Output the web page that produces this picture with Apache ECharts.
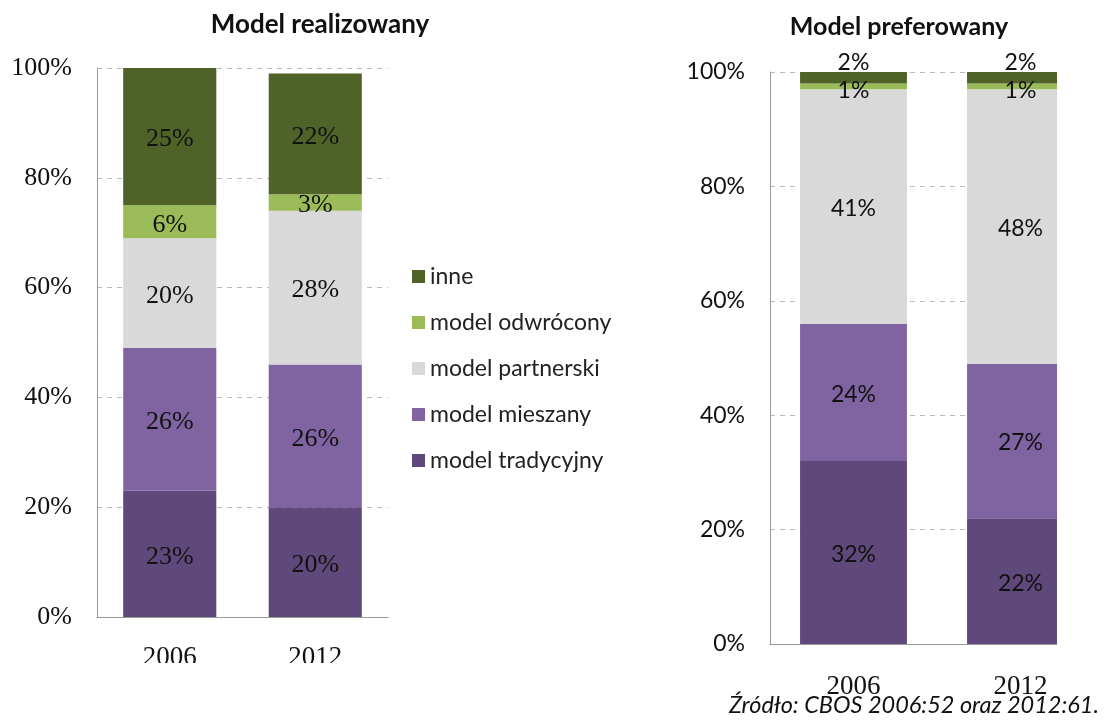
<!DOCTYPE html>
<html>
<head>
<meta charset="utf-8">
<script src="https://cdn.jsdelivr.net/npm/echarts@6/dist/echarts.min.js"></script>
<style>
  html, body { margin: 0; padding: 0; background: #fff; }
  #chart { width: 1104px; height: 721px; }
</style>
</head>
<body>
<div id="chart"></div>
<script>
const years = ['2006', '2012'];
const seriesNames = ['model tradycyjny', 'model mieszany', 'model partnerski', 'model odwrócony', 'inne'];
const legendOrder = ['inne', 'model odwrócony', 'model partnerski', 'model mieszany', 'model tradycyjny'];
const colors = ['#5F497A', '#8064A2', '#D9D9D9', '#9BBB59', '#4F6228'];

// Model realizowany
const realTrad = [23, 20];
const realMiesz = [26, 26];
const realPart = [20, 28];
const realOdwr = [6, 3];
const realInne = [25, 22];

// Model preferowany
const prefTrad = [32, 22];
const prefMiesz = [24, 27];
const prefPart = [41, 48];
const prefOdwr = [1, 1];
const prefInne = [2, 2];

const realData = [realTrad, realMiesz, realPart, realOdwr, realInne];
const prefData = [prefTrad, prefMiesz, prefPart, prefOdwr, prefInne];

const serif = '"Liberation Serif", "DejaVu Serif", serif';
const sans = 'Lato, "Open Sans", sans-serif';

const chart = echarts.init(document.getElementById('chart'));

const series = [];
realData.forEach((vals, i) => {
  series.push({
    name: seriesNames[i],
    type: 'bar',
    stack: 'real',
    xAxisIndex: 0,
    yAxisIndex: 0,
    barWidth: '64%',
    itemStyle: { color: colors[i] },
    label: {
      show: true,
      position: 'inside',
      formatter: '{c}%',
      color: '#111',
      fontFamily: serif,
      fontSize: 26,
      offset: [0, 3]
    },
    data: vals
  });
});
prefData.forEach((vals, i) => {
  let label = {
    show: true,
    position: 'inside',
    formatter: '{c}%',
    color: '#111',
    fontFamily: sans,
    fontSize: 23,
    offset: [0, 2]
  };
  if (i === 4) label = Object.assign({}, label, { position: 'top', distance: 0, offset: [0, 2] });
  if (i === 3) label = Object.assign({}, label, { offset: [0, 4] });
  series.push({
    name: seriesNames[i],
    type: 'bar',
    stack: 'pref',
    xAxisIndex: 1,
    yAxisIndex: 1,
    barWidth: '64%',
    itemStyle: { color: colors[i] },
    label: label,
    data: vals
  });
});

function yAxisFor(grid, font, size) {
  return {
    type: 'value',
    gridIndex: grid,
    min: 0,
    max: 100,
    interval: 20,
    axisLine: { show: true, lineStyle: { color: '#999', width: 1 } },
    axisTick: { show: false },
    splitLine: { show: true, lineStyle: { color: '#bbb', type: [5, 5] } },
    axisLabel: { formatter: '{value}%', color: '#111', fontFamily: font, fontSize: size, margin: 25 }
  };
}

function xAxisFor(grid, margin) {
  return {
    type: 'category',
    gridIndex: grid,
    data: years,
    axisLine: { show: true, lineStyle: { color: '#999', width: 1 } },
    axisTick: { show: false },
    axisLabel: { color: '#111', fontFamily: serif, fontSize: 27, margin: margin }
  };
}

const option = {
  animation: false,
  backgroundColor: '#fff',
  title: [
    {
      text: 'Model realizowany',
      left: 315,
      top: 7,
      textAlign: 'center',
      textStyle: { fontFamily: sans, fontWeight: 'bold', fontSize: 26, color: '#111' }
    },
    {
      text: 'Model preferowany',
      left: 894,
      top: 9,
      textAlign: 'center',
      textStyle: { fontFamily: sans, fontWeight: 'bold', fontSize: 25, color: '#111' }
    },
    {
      text: 'Źródło: CBOS 2006:52 oraz 2012:61.',
      right: 0,
      bottom: -1,
      z: 20,
      textStyle: { fontFamily: sans, fontStyle: 'italic', fontWeight: 'normal', fontSize: 23.5, color: '#111' }
    }
  ],
  legend: {
    orient: 'vertical',
    left: 407,
    top: 260,
    itemWidth: 13,
    itemHeight: 13,
    itemGap: 23,
    icon: 'rect',
    data: legendOrder,
    textStyle: { fontFamily: sans, fontSize: 23, lineHeight: 23, color: '#222' }
  },
  grid: [
    { left: 97, top: 68, width: 291, height: 549 },
    { left: 770, top: 72, width: 340, height: 572 }
  ],
  xAxis: [xAxisFor(0, 27), xAxisFor(1, 29)],
  yAxis: [yAxisFor(0, serif, 26), yAxisFor(1, sans, 23)],
  graphic: [
    // the original picture is cut off on the right side of the second chart
    { type: 'rect', z: 100, shape: { x: 1057, y: 40, width: 60, height: 620 }, style: { fill: '#fff' } },
    // and the year labels are cut off at the bottom
    { type: 'rect', z: 10, shape: { x: 100, y: 663, width: 300, height: 60 }, style: { fill: '#fff' } },
    { type: 'rect', z: 10, shape: { x: 780, y: 694, width: 300, height: 30 }, style: { fill: '#fff' } }
  ],
  series: series
};

chart.setOption(option);
</script>
</body>
</html>
